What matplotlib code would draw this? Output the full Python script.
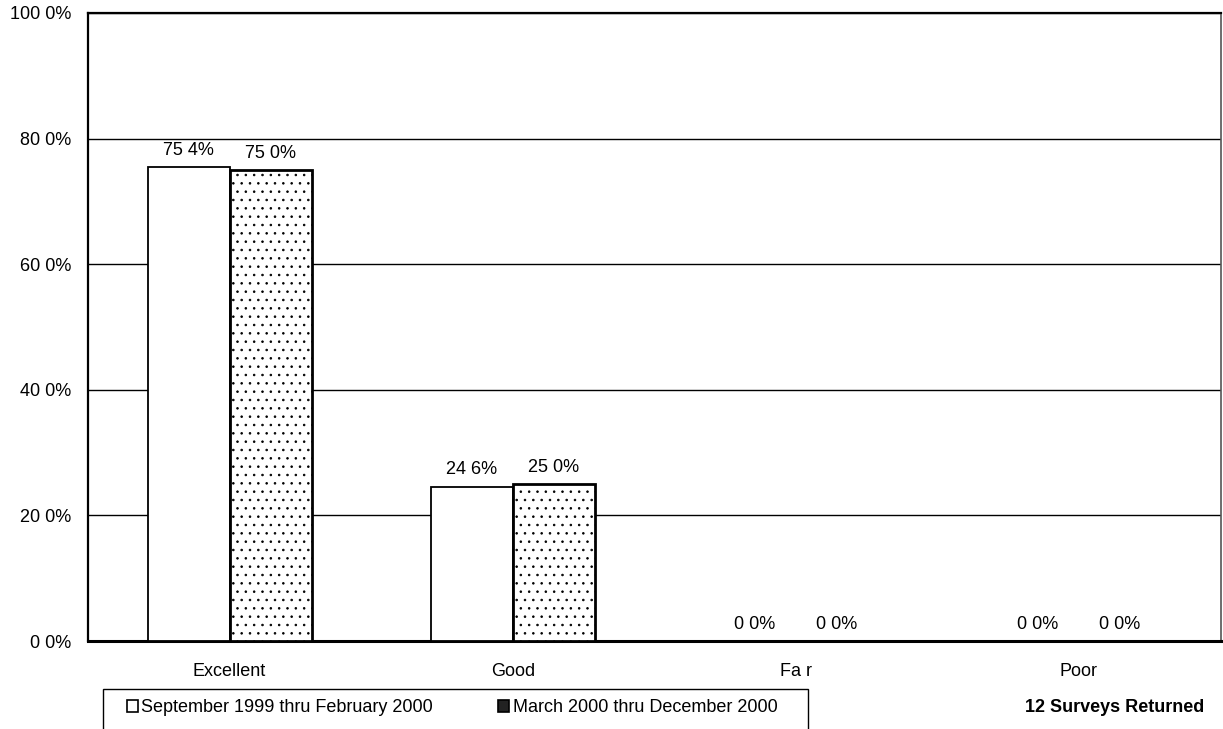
import numpy as np
import matplotlib.pyplot as plt
from matplotlib.patches import Patch, Rectangle

plt.rcParams['font.family'] = ['Liberation Sans', 'DejaVu Sans']

categories = ['Excellent', 'Good', 'Fa r', 'Poor']
period1 = [75.4, 24.6, 0.0, 0.0]
period2 = [75.0, 25.0, 0.0, 0.0]
period1_labels = ['75 4%', '24 6%', '0 0%', '0 0%']
period2_labels = ['75 0%', '25 0%', '0 0%', '0 0%']
y_ticks = [0, 20, 40, 60, 80, 100]
y_tick_labels = ['0 0%', '20 0%', '40 0%', '60 0%', '80 0%', '100 0%']
series_names = ['September 1999 thru February 2000', 'March 2000 thru December 2000']

fig = plt.figure(figsize=(12.23, 7.29), dpi=100)
ax = fig.add_axes([0.072, 0.1207, 0.926, 0.8615])

x = np.arange(len(categories))
w = 0.29

plt.rcParams['hatch.linewidth'] = 0.6
plt.rcParams['hatch.color'] = '#333333'
b1 = ax.bar(x - w / 2, period1, w, color='white', edgecolor='black', linewidth=1.3, zorder=3)
b2 = ax.bar(x + w / 2, period2, w, color='white', edgecolor='black', linewidth=2.0,
            hatch='..', zorder=3)

for rect, lab in zip(b1, period1_labels):
    ax.annotate(lab, (rect.get_x() + rect.get_width() / 2, rect.get_height()),
                xytext=(0, 6), textcoords='offset points', ha='center', va='bottom', fontsize=13)
for rect, lab in zip(b2, period2_labels):
    ax.annotate(lab, (rect.get_x() + rect.get_width() / 2, rect.get_height()),
                xytext=(0, 6), textcoords='offset points', ha='center', va='bottom', fontsize=13)

ax.set_xlim(-0.5, len(categories) - 0.5)
ax.set_ylim(0, 100)
ax.set_yticks(y_ticks)
ax.set_yticklabels(y_tick_labels, fontsize=13)
ax.set_xticks(x)
ax.set_xticklabels(categories, fontsize=13)
ax.tick_params(axis='y', length=0, pad=12)
ax.tick_params(axis='x', length=0, pad=16)

ax.yaxis.grid(True, color='black', linewidth=1.0, zorder=0)
ax.set_axisbelow(True)

ax.spines['left'].set_linewidth(1.6)
ax.spines['bottom'].set_linewidth(2.2)
ax.spines['top'].set_linewidth(1.6)
ax.spines['right'].set_linewidth(1.2)
ax.spines['right'].set_color('#555555')

# legend swatches: open box and dark box
handles = [Patch(facecolor='white', edgecolor='black', linewidth=1.2),
           Patch(facecolor='#222222', edgecolor='black', linewidth=1.2)]
leg = fig.legend(handles, series_names, loc='center left',
                 bbox_to_anchor=(127 / 1223, 1 - 708 / 729),
                 ncol=2, fontsize=13, frameon=False,
                 handlelength=0.6, handleheight=0.6, handletextpad=0.2,
                 columnspacing=3.6, borderpad=0, borderaxespad=0)

# open-bottomed box around the legend
fig.add_artist(Rectangle((103 / 1223, -0.02), 705 / 1223, 0.02 + 1 - 689 / 729,
                         transform=fig.transFigure, fill=False, edgecolor='black',
                         linewidth=1.0))

fig.text(1115 / 1223, 1 - 708 / 729, '12 Surveys Returned', fontsize=13,
         fontweight='bold', ha='center', va='center')

fig.savefig('out.png', dpi=100)
